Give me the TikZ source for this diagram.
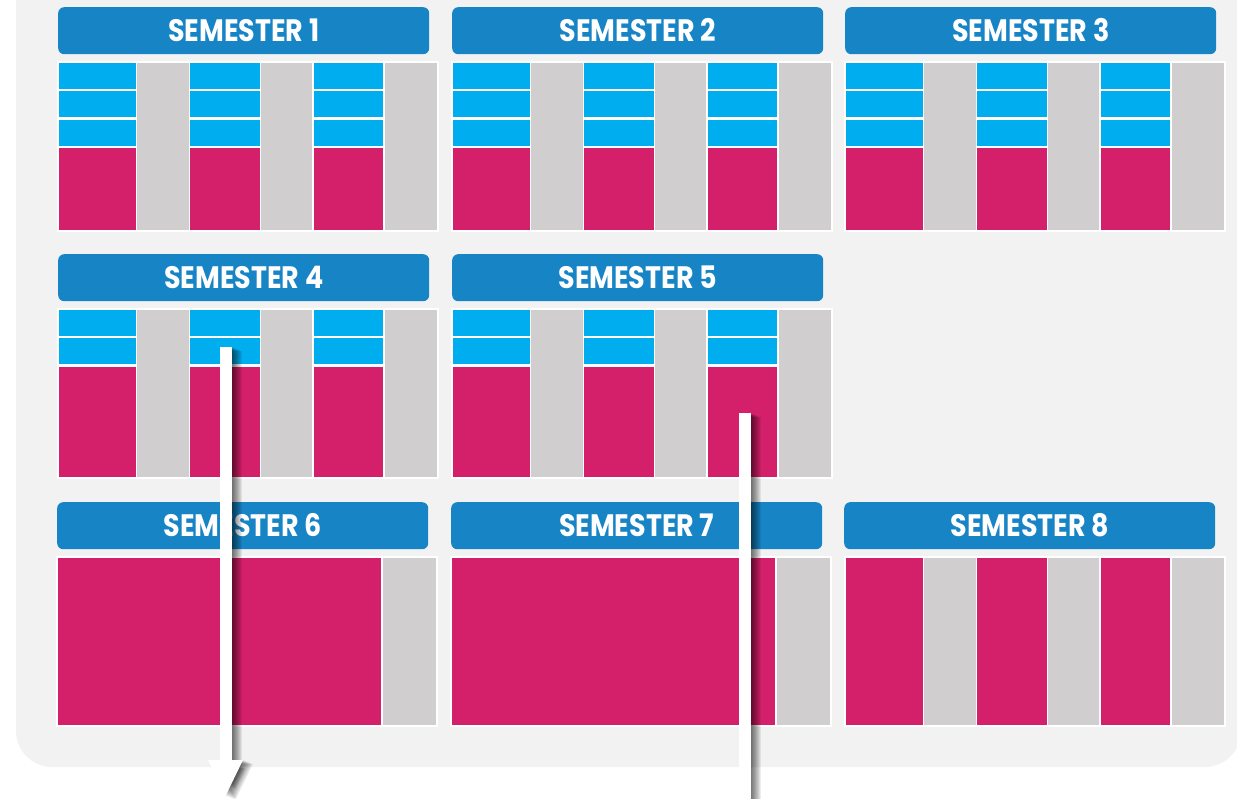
\documentclass[tikz,border=0pt]{standalone}
\usepackage{fontspec}
\newfontfamily\semfont[FakeStretch=0.87]{Poppins}
\usetikzlibrary{arrows.meta}
\definecolor{panelgrey}{HTML}{F2F2F2}
\definecolor{headblue}{HTML}{1784C5}
\definecolor{topicblue}{HTML}{00AEEF}
\definecolor{coursepink}{HTML}{D41F6A}
\definecolor{slotgrey}{HTML}{D0CECF}
\tikzset{
semhead/.style={fill=headblue, rounded corners=6pt, text=white, anchor=north west,
  font=\semfont\bfseries\fontsize{31}{31}\selectfont, inner sep=0pt,
  minimum width=371pt, minimum height=47pt, text height=21.6pt, text depth=0pt}, % blue title bar
topic/.style={fill=topicblue}, % small blue blocks
course/.style={fill=coursepink}, % pink blocks
slot/.style={fill=slotgrey}, % grey columns
flow/.style={draw=white, line width=12pt, -{Triangle[width=32pt,length=37pt]}}, % white arrows
}

\begin{document}
\begin{tikzpicture}[x=1pt, y=-1pt]
  \clip (0,0) rectangle (1237,799);
  \fill[panelgrey, rounded corners=36pt] (16,-60) rectangle (1241,767);

  % semesters with three columns
  \foreach \sx/\sy/\nb in {58/7/3, 452/7/3, 845/7/3, 58/254/2, 452/254/2, 845/502/0} {
    \fill[white] (\sx-1,\sy+54) rectangle (\sx+381,\sy+225);
    \foreach \cl/\cr/\gl/\gr in {1/78/79/131, 132/202/203/254, 256/325/327/379} {
      \fill[slot] (\sx+\gl,\sy+56) rectangle (\sx+\gr,\sy+223);
      \foreach \r in {1,2,3} {
        \ifnum\r>\nb\relax\else
          \fill[topic] (\sx+\cl,{\sy+56+(\r-1)*28.3}) rectangle (\sx+\cr,{\sy+82+(\r-1)*28.3});
        \fi
      }
      \fill[course] (\sx+\cl,{\sy+56+\nb*28.3}) rectangle (\sx+\cr,\sy+223);
    }
  }
  % semesters with one big block
  \foreach \sx/\sy in {57/502, 451/502} {
    \fill[white] (\sx-1,\sy+54) rectangle (\sx+381,\sy+225);
    \fill[course] (\sx+1,\sy+56) rectangle (\sx+324,\sy+223);
    \fill[slot] (\sx+326,\sy+56) rectangle (\sx+379,\sy+223);
  }

  \foreach \n/\sx/\sy in {1/58/7, 2/452/7, 3/845/7, 4/58/254, 5/452/254, 6/57/502, 7/451/502, 8/844/502}
    \node[semhead] (s\n) at (\sx,\sy) {SEMESTER \n};

  \coordinate (from4) at (225.5,347);
  \coordinate (to4) at (225.5,797);
  \coordinate (from5) at (745.2,413);
  \coordinate (to5) at (745.2,860);

  % soft shadow
  \foreach \i in {1,...,10} {
    \draw[flow, draw=black, opacity=0.07] ([xshift=\i pt, yshift={-0.4*\i pt}]from4) -- ([xshift=\i pt, yshift={-0.4*\i pt}]to4);
    \draw[flow, draw=black, opacity=0.07] ([xshift=\i pt, yshift={-0.4*\i pt}]from5) -- ([xshift=\i pt, yshift={-0.4*\i pt}]to5);
  }
  \draw[flow] (from4) -- (to4);
  \draw[flow] (from5) -- (to5);
\end{tikzpicture}
\end{document}
